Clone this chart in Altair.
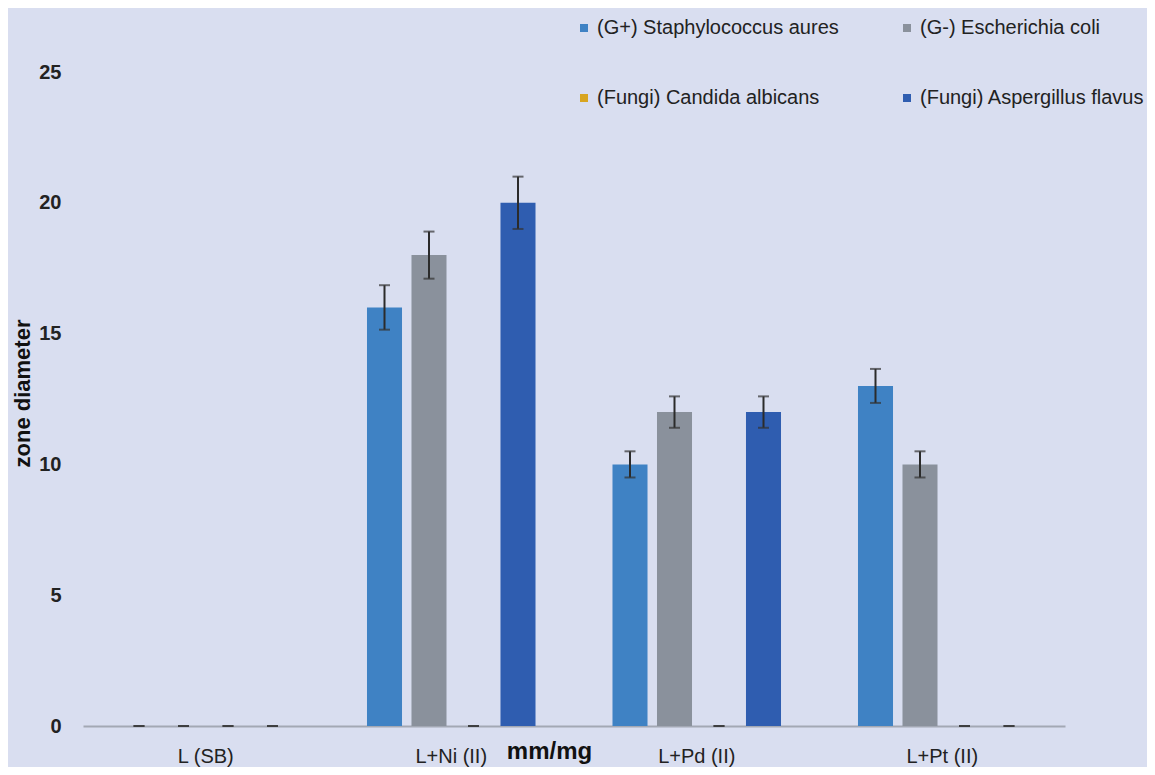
import altair as alt
import pandas as pd

groups = ["L (SB)", "L+Ni (II)", "L+Pd (II)", "L+Pt (II)"]
series = ["(G+) Staphylococcus aures", "(G-) Escherichia coli",
          "(Fungi) Candida albicans", "(Fungi) Aspergillus flavus"]
colors = ["#3f82c4", "#8a919c", "#d8a520", "#2f5db0"]

staph = [0, 16, 10, 13]
staph_err = [0, 0.85, 0.5, 0.65]
ecoli = [0, 18, 12, 10]
ecoli_err = [0, 0.9, 0.6, 0.5]
candida = [0, 0, 0, 0]
candida_err = [0, 0, 0, 0]
asper = [0, 20, 12, 0]
asper_err = [0, 1.0, 0.6, 0]

rows = []
for name, vals, errs in zip(series, [staph, ecoli, candida, asper],
                            [staph_err, ecoli_err, candida_err, asper_err]):
    for g, v, e in zip(groups, vals, errs):
        rows.append(dict(group=g, series=name, value=v, lo=v - e, hi=v + e))
df = pd.DataFrame(rows)

FONT = "Liberation Sans"
PLOT_W, PLOT_H = 982, 654

x_enc = alt.X("group:N", sort=groups,
              scale=alt.Scale(paddingInner=0, paddingOuter=0),
              axis=alt.Axis(title="mm/mg", labelAngle=0, ticks=False,
                            domainColor="#a3a8b4", domainWidth=2,
                            labelFont=FONT, labelFontSize=20, labelColor="#222222",
                            labelPadding=20, labelBaseline="top",
                            titleFont=FONT, titleFontSize=24, titleFontWeight="bold",
                            titleColor="#111111", titleX=466, titleY=32,
                            titleBaseline="alphabetic", titleAlign="center"))
xo_enc = alt.XOffset("series:N", sort=series,
                     scale=alt.Scale(paddingInner=0.213, paddingOuter=0.865))
y_scale = alt.Scale(domain=[0, 25], nice=False)

bars = alt.Chart(df).transform_filter("datum.value > 0").mark_bar().encode(
    x=x_enc,
    xOffset=xo_enc,
    y=alt.Y("value:Q", scale=y_scale,
            axis=alt.Axis(values=[0, 5, 10, 15, 20, 25], grid=False, domain=False,
                          ticks=False, labelFont=FONT, labelFontSize=20,
                          labelFontWeight="bold", labelColor="#222222",
                          labelPadding=22, title="zone diameter",
                          titleFont=FONT, titleFontSize=22, titleFontWeight="bold",
                          titleColor="#111111", titleX=-61, titleY=PLOT_H / 2 - 6,
                          titleBaseline="middle", titleAlign="center")),
    color=alt.Color("series:N", sort=series,
                    scale=alt.Scale(domain=series, range=colors),
                    legend=alt.Legend(title=None, orient="none", legendX=491, legendY=-54,
                                      direction="horizontal",
                                      columns=2, symbolType="square", symbolSize=64,
                                      symbolStrokeWidth=0, labelFont=FONT,
                                      labelFontSize=20, labelColor="#222222",
                                      labelLimit=500,
                                      labelOffset=3, columnPadding=58, rowPadding=50,
                                      symbolOpacity=1)),
)

err = alt.Chart(df).mark_rule(color="#2b2b2b", strokeWidth=2).encode(
    x=alt.X("group:N", sort=groups),
    xOffset=alt.XOffset("series:N", sort=series),
    y=alt.Y("lo:Q", scale=y_scale),
    y2="hi:Q",
)
cap_lo = alt.Chart(df).mark_tick(color="#333333", size=11, thickness=2).encode(
    x=alt.X("group:N", sort=groups),
    xOffset=alt.XOffset("series:N", sort=series),
    y=alt.Y("lo:Q", scale=y_scale),
)
cap_hi = alt.Chart(df).mark_tick(color="#333333", size=11, thickness=2).encode(
    x=alt.X("group:N", sort=groups),
    xOffset=alt.XOffset("series:N", sort=series),
    y=alt.Y("hi:Q", scale=y_scale),
)

chart = alt.layer(bars, err, cap_lo, cap_hi).properties(
    width=PLOT_W, height=PLOT_H,
    background="#d9def0",
    padding={"left": 75, "top": 64, "right": 82, "bottom": 41},
    autosize=alt.AutoSizeParams(type="none"),
).configure_view(stroke=None)

chart.save("out.html", embed_options={"renderer": "svg", "actions": False})
